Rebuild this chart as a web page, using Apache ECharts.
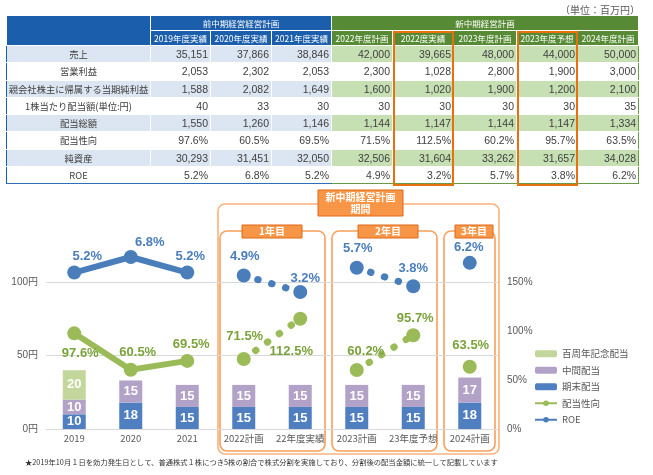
<!DOCTYPE html>
<html>
<head>
<meta charset="utf-8">
<script src="https://cdn.jsdelivr.net/npm/echarts@6/dist/echarts.min.js"></script>
<style>
  html, body { margin: 0; padding: 0; background: #fff; }
  #wrap { position: relative; width: 653px; height: 475px; overflow: hidden; }
  #chart { position: absolute; left: 0; top: 0; width: 653px; height: 475px; }
  #unit { position: absolute; right: 13px; top: 2px; font: 10px "Noto Sans CJK JP", sans-serif; color: #595959; z-index: 3; }
  #tbl { position: absolute; left: 6px; top: 15px; width: 632px; border-collapse: collapse; table-layout: fixed; z-index: 2; }
  #tbl td, #tbl th { padding: 0; border: 1px solid #fff; overflow: hidden; white-space: nowrap; box-sizing: border-box; }
  #tbl th { color: #fff; font: 8.5px "Noto Sans CJK JP", sans-serif; height: 15px; line-height: 13px; font-weight: normal; }
  #tbl th.b { background: #1b5eab; }
  #tbl th.g { background: #578a34; }
  #tbl td { height: 17.25px; line-height: 15px; font: 10.5px "Liberation Sans", Arial, sans-serif; color: #404040; text-align: right; padding-right: 2px; }
  #tbl td.lab { font: 9.3px "Noto Sans CJK JP", sans-serif; text-align: center; padding: 0; border-left: 1px solid #1b5eab; }
  #tbl tr.odd td.b { background: #dce6f2; }
  #tbl tr.odd td.g { background: #c6e0b4; }
  #tbl tr.last td.b { border-bottom: 1px solid #2f6eba; }
  #tbl tr.last td.g { border-bottom: 1px solid #6a9a45; }
  #tbl td.end { border-right: 1px solid #6a9a45; }
  .hl { position: absolute; border: 2px solid #e8700f; box-sizing: border-box; z-index: 4; pointer-events: none; }
</style>
</head>
<body>
<div id="wrap">
  <div id="chart"></div>
  <div id="unit">（単位：百万円）</div>
  <table id="tbl"></table>
</div>
<script>
// ---- table data ----
const prevPlanTitle = '前中期経営経営計画';
const newPlanTitle = '新中期経営計画';
const tableColumns = ['2019年度実績', '2020年度実績', '2021年度実績', '2022年度計画', '2022度実績', '2023年度計画', '2023年度予想', '2024年度計画'];
const tableRowLabels = ['売上', '営業利益', '親会社株主に帰属する当期純利益', '1株当たり配当額(単位:円)', '配当総額', '配当性向', '純資産', 'ROE'];
const sales = [35151, 37866, 38846, 42000, 39665, 48000, 44000, 50000];
const operatingProfit = [2053, 2302, 2053, 2300, 1028, 2800, 1900, 3000];
const netIncome = [1588, 2082, 1649, 1600, 1020, 1900, 1200, 2100];
const dividendPerShare = [40, 33, 30, 30, 30, 30, 30, 35];
const totalDividends = [1550, 1260, 1146, 1144, 1147, 1144, 1147, 1334];
const netAssets = [30293, 31451, 32050, 32506, 31604, 33262, 31657, 34028];
const highlightColumns = [4, 6];

// ---- chart data ----
const categories = ['2019', '2020', '2021', '2022計画', '22年度実績', '2023計画', '23年度予想', '2024計画'];
const yearEndDividend = [10, 18, 15, 15, 15, 15, 15, 18];
const interimDividend = [10, 15, 15, 15, 15, 15, 15, 17];
const centennialDividend = [20, '-', '-', '-', '-', '-', '-', '-'];
const payoutRatio = [97.6, 60.5, 69.5, 71.5, 112.5, 60.2, 95.7, 63.5];
const roe = [5.2, 6.8, 5.2, 4.9, 3.2, 5.7, 3.8, 6.2];
const yenTicks = [0, 50, 100];
const pctTicks = [0, 50, 100, 150];
// index ranges joined into one line: first one solid, the others dotted
const lineSegments = [[0, 2], [3, 4], [5, 6], [7, 7]];

const footnote = '★2019年10月１日を効力発生日として、普通株式１株につき5株の割合で株式分割を実施しており、分割後の配当金額に統一して記載しています';

// label nudges (pixels) so the labels sit where the original has them
const roeLabelOffset = [[13, -16], [19, -15], [3, -16], [1, -19], [5, -14], [1, -19], [0, -18], [-1, -15]];
const payoutLabelOffset = [[6, 20], [7, -17], [4, -16], [1, -23], [-9, 33], [9, -19], [2, -17], [1, -21]];

// ---- build table ----
const num = v => v.toLocaleString('en-US');
const pct = v => v.toFixed(1) + '%';
const tableRows = [
  sales.map(num), operatingProfit.map(num), netIncome.map(num), dividendPerShare.map(num),
  totalDividends.map(num), payoutRatio.map(pct), netAssets.map(num), roe.map(pct)
];
const tbl = document.getElementById('tbl');
let html = '<colgroup><col style="width:144px">' +
  [60, 61, 60, 61, 61, 63, 61, 61].map(w => `<col style="width:${w}px">`).join('') + '</colgroup>';
html += `<tr><th class="b" rowspan="2"></th><th class="b" colspan="3">${prevPlanTitle}</th><th class="g" colspan="5">${newPlanTitle}</th></tr>`;
html += '<tr>' + tableColumns.map((c, i) => `<th class="${i < 3 ? 'b' : 'g'}">${c}</th>`).join('') + '</tr>';
tableRowLabels.forEach((lab, r) => {
  const cls = (r % 2 === 0 ? 'odd' : '') + (r === tableRowLabels.length - 1 ? ' last' : '');
  html += `<tr class="${cls}"><td class="lab b">${lab}</td>` +
    tableRows[r].map((v, i) => `<td class="${i < 3 ? 'b' : 'g'}${i === 7 ? ' end' : ''}">${v}</td>`).join('') + '</tr>';
});
tbl.innerHTML = html;

// orange frames round the highlighted columns
const wrap = document.getElementById('wrap');
const wrapBox = wrap.getBoundingClientRect();
const headCells = tbl.rows[1].cells;
const lastRow = tbl.rows[tbl.rows.length - 1].getBoundingClientRect();
highlightColumns.forEach(ci => {
  const b = headCells[ci].getBoundingClientRect();
  const d = document.createElement('div');
  d.className = 'hl';
  d.style.left = (b.left - wrapBox.left) + 'px';
  d.style.top = (b.top - wrapBox.top) + 'px';
  d.style.width = b.width + 'px';
  d.style.height = (lastRow.bottom - b.top + 2) + 'px';
  wrap.appendChild(d);
});

// ---- chart ----
const chart = echarts.init(document.getElementById('chart'));
const BLUE = '#4a7ebb', GREEN = '#9bbb59', GREEN_TXT = '#7ba33b';

function lineSeries(name, values, axis, color, labelColor, offsets) {
  return lineSegments.map(([a, b], i) => ({
    name: name,
    type: 'line',
    yAxisIndex: axis,
    z: 5,
    clip: false,
    symbol: 'circle',
    symbolSize: 14,
    itemStyle: { color: color },
    lineStyle: i === 0
      ? { width: 6, color: color }
      : { width: 7, color: color, type: [0.5, 14], cap: 'round' },
    label: {
      show: true,
      position: 'inside',
      formatter: p => p.value.toFixed(1) + '%',
      color: labelColor,
      fontSize: 13,
      fontWeight: 'bold'
    },
    data: values.map((v, k) => (k < a || k > b) ? '-' : { value: v, label: { offset: offsets[k] } })
  }));
}

function barSeries(name, values, color) {
  return {
    name: name,
    type: 'bar',
    stack: 'dps',
    barWidth: 23,
    itemStyle: { color: color },
    label: { show: true, position: 'inside', color: '#fff', fontSize: 13, fontWeight: 'bold' },
    data: values
  };
}

function frame(x, y, w, h, stroke) {
  return { type: 'rect', shape: { x: x, y: y, width: w, height: h, r: 7 }, style: { fill: 'none', stroke: stroke, lineWidth: 1.6 }, silent: true };
}
function tag(x, y, w, h, text) {
  return {
    type: 'group', z: 10, silent: true,
    children: [
      { type: 'rect', shape: { x: x, y: y, width: w, height: h }, style: { fill: '#f79646', stroke: '#e0691a', lineWidth: 1 } },
      {
        type: 'text', x: x + w / 2, y: y + h / 2,
        style: { text: text, fill: '#fff', fontSize: 10, fontWeight: 'bold', lineHeight: 12, align: 'center', verticalAlign: 'middle', fontFamily: '"Noto Sans CJK JP", sans-serif' }
      }
    ]
  };
}

chart.setOption({
  animation: false,
  textStyle: { fontFamily: '"Liberation Sans", Arial, "Noto Sans CJK JP", sans-serif' },
  grid: { left: 46, right: 155, top: 282, bottom: 46 },
  legend: {
    orient: 'vertical',
    left: 529,
    top: 344,
    itemWidth: 22,
    itemHeight: 7,
    itemGap: 7,
    data: ['百周年記念配当', '中間配当', '期末配当', '配当性向', 'ROE'],
    textStyle: { fontSize: 9.5, color: '#595959', fontFamily: '"Noto Sans CJK JP", sans-serif' }
  },
  xAxis: {
    type: 'category',
    data: categories,
    axisLine: { lineStyle: { color: '#d9d9d9' } },
    axisTick: { show: false },
    axisLabel: { interval: 0, fontSize: 9.5, color: '#595959', margin: 5, fontFamily: '"Noto Sans CJK JP", sans-serif' }
  },
  yAxis: [
    {
      type: 'value', position: 'left',
      min: yenTicks[0], max: yenTicks[yenTicks.length - 1], interval: yenTicks[1] - yenTicks[0],
      axisLine: { show: false }, axisTick: { show: false },
      axisLabel: { formatter: '{value}円', fontSize: 10, color: '#595959', margin: 8 },
      splitLine: { lineStyle: { color: '#d9d9d9' } }
    },
    {
      type: 'value', position: 'right',
      min: pctTicks[0], max: pctTicks[pctTicks.length - 1], interval: pctTicks[1] - pctTicks[0],
      axisLine: { show: false }, axisTick: { show: false },
      axisLabel: { formatter: '{value}%', fontSize: 10, color: '#595959', margin: 9 },
      splitLine: { show: false }
    },
    { type: 'value', show: false, min: -10.89, max: 4.23, splitLine: { show: false } }
  ],
  graphic: [
    frame(218, 204, 281, 250, '#f9b27c'),
    frame(220, 231, 105, 220, '#f5a05a'),
    frame(332, 231, 105, 220, '#f5a05a'),
    frame(444, 231, 51, 220, '#f5a05a'),
    tag(318, 190, 85, 26, '新中期経営計画\n期間'),
    tag(242, 225, 60, 13, '1年目'),
    tag(358, 225, 60, 13, '2年目'),
    tag(455, 225, 38, 13, '3年目'),
    {
      type: 'text', left: 25, top: 459,
      style: { text: footnote, fontSize: 7.3, fill: '#333', fontFamily: '"Noto Sans CJK JP", sans-serif' }
    }
  ],
  series: [
    barSeries('期末配当', yearEndDividend, '#4f7fc0'),
    barSeries('中間配当', interimDividend, '#b3a2c7'),
    barSeries('百周年記念配当', centennialDividend, '#c3d69b'),
    ...lineSeries('配当性向', payoutRatio, 1, GREEN, GREEN_TXT, payoutLabelOffset),
    ...lineSeries('ROE', roe, 2, BLUE, BLUE, roeLabelOffset)
  ]
});
</script>
</body>
</html>
